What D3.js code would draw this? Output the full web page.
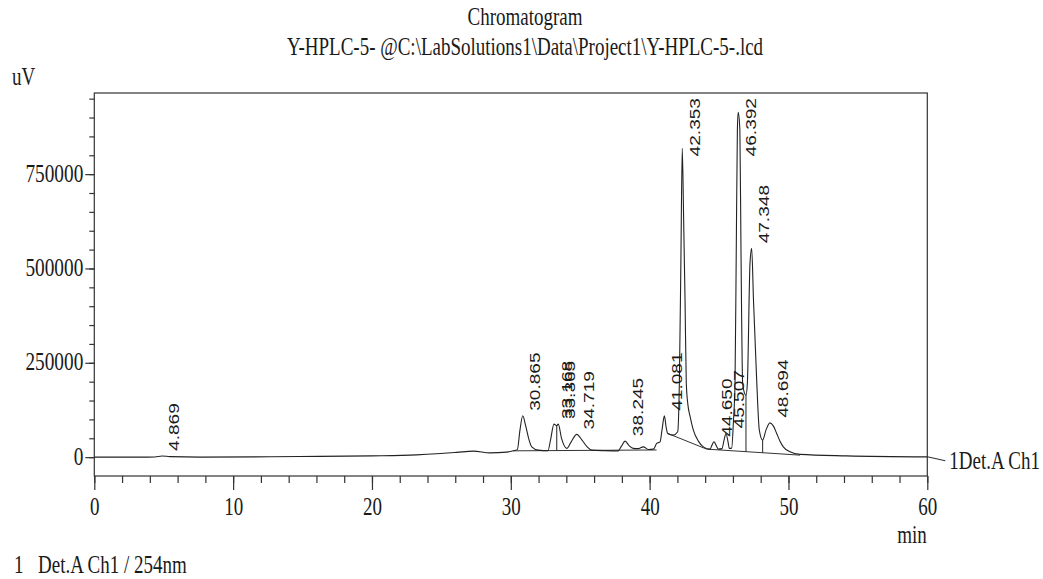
<!DOCTYPE html>
<html>
<head>
<meta charset="utf-8">
<script src="https://cdn.jsdelivr.net/npm/d3@7"></script>
<style>
  html, body { margin: 0; padding: 0; background: #fff; }
  svg { display: block; }
</style>
</head>
<body>
<svg id="chart" width="1043" height="579"></svg>
<script>
// ---------------- data ----------------
const titleText = "Chromatogram";
const subtitleText = "Y-HPLC-5- @C:\\LabSolutions1\\Data\\Project1\\Y-HPLC-5-.lcd";
const yUnit = "uV";
const xUnit = "min";
const channelLabel = "1Det.A Ch1";
const legendNumber = "1";
const legendText = "Det.A Ch1 / 254nm";

// retention time (min) and detector signal (uV)
const times = [0.00, 3.29, 4.37, 4.87, 5.45, 7.61, 14.82, 20.00, 23.22, 24.66, 26.10, 27.30, 28.50, 29.71,
  30.18, 30.47, 30.66, 30.86, 31.06, 31.28, 31.51, 31.98, 32.68, 32.86, 33.11, 33.31, 33.42, 33.65,
  34.03, 34.34, 34.75, 35.13, 35.49, 35.83, 36.79, 37.74, 37.97, 38.23, 38.52, 38.82, 39.16, 39.55,
  39.91, 40.27, 40.51, 40.75, 40.91, 41.06, 41.20, 41.30, 41.71, 42.02, 42.14, 42.25, 42.35, 42.45,
  42.55, 42.64, 42.76, 42.91, 43.15, 43.51, 43.87, 44.35, 44.49, 44.64, 44.78, 44.95, 45.21, 45.36,
  45.50, 45.65, 45.74, 45.91, 46.04, 46.15, 46.24, 46.32, 46.38, 46.50, 46.58, 46.70, 46.83, 46.94,
  47.04, 47.23, 47.35, 47.48, 47.71, 47.90, 48.14, 48.38, 48.67, 48.92, 49.15, 49.39, 49.63, 50.11,
  50.83, 54.20, 60.00];
const signal = [0, 0, 500, 3200, 1300, 0, 1600, 3400, 6100, 8800, 12500, 15900, 11400, 13300,
  16700, 19900, 71600, 109500, 84800, 50400, 27300, 18600, 17200, 45100, 87500, 83500, 87500, 50400,
  23100, 39800, 60200, 45100, 27800, 18600, 17200, 16700, 29200, 42400, 30500, 23100, 22500, 27300,
  20400, 21200, 36300, 40600, 76900, 109500, 76900, 62800, 58300, 67100, 195400, 514300, 818400, 628300,
  416200, 196200, 137900, 108700, 71600, 42400, 27300, 21200, 31800, 40600, 31800, 21200, 22500, 45100,
  62800, 39800, 23100, 23900, 98100, 196200, 548800, 866900, 913800, 866900, 548800, 195400, 169700, 164400,
  196200, 514300, 553300, 416200, 204100, 71600, 45100, 71600, 90900, 82200, 62800, 42400, 27300, 14100,
  7200, 3400, 800];

// integration baselines: start/end time and value
const baseStartT = [30.18, 41.30, 44.11];
const baseStartV = [16700, 62800, 21200];
const baseEndT   = [40.50, 44.11, 50.83];
const baseEndV   = [19000, 21200, 5300];

// peak separation (drop) lines
const dropTimes  = [33.31, 46.94, 48.14];
const dropTops   = [83500, 164400, 45100];
const dropBottoms = [16900, 14500, 11700];

// peak labels
const peakLabels  = ["4.869", "30.865", "33.168", "33.365", "34.719", "38.245", "41.081", "42.353",
                     "44.650", "45.507", "46.392", "47.348", "48.694"];
const peakTimes   = [4.869, 30.865, 33.168, 33.365, 34.719, 38.245, 41.081, 42.353,
                     44.650, 45.507, 46.392, 47.348, 48.694];
const peakHeights = [3200, 109500, 87500, 87500, 60200, 42400, 109500, 818400,
                     40600, 62800, 913800, 553300, 90900];

const xMajorTicks = [0, 10, 20, 30, 40, 50, 60];
const xMinorTicks = d3.range(0, 61, 2);
const yMajorTicks = [0, 250000, 500000, 750000];
const yMinorTicks = d3.range(0, 950001, 50000);

// ---------------- layout ----------------
const svg = d3.select("#chart");
const L = 94.3, R = 927.3, T = 93, B = 476;
const x = d3.scaleLinear().domain([0, 60]).range([L, R]);
const y = d3.scaleLinear().domain([-50000, 965000]).range([B, T]);

const SERIF = "'Liberation Serif', 'Times New Roman', serif";
const SANS = "'Liberation Sans', Arial, sans-serif";
const INK = "#1a1a1a";
const VSTRETCH = 1.3;

function stretchedText(x0, y0, txt, opts) {
  const o = Object.assign({size: 19, family: SERIF, anchor: "start", sy: VSTRETCH}, opts || {});
  return svg.append("text")
    .attr("transform", `translate(${x0},${y0}) scale(1,${o.sy})`)
    .attr("text-anchor", o.anchor)
    .attr("font-family", o.family)
    .attr("font-size", o.size)
    .attr("fill", INK)
    .text(txt);
}

// titles
stretchedText(525, 25, titleText, {anchor: "middle"});
stretchedText(525, 55, subtitleText, {anchor: "middle"});
stretchedText(12, 85, yUnit);
stretchedText(912, 543, xUnit, {anchor: "middle"});
stretchedText(14, 573, legendNumber);
stretchedText(38, 573, legendText);

// frame
svg.append("rect")
  .attr("x", L).attr("y", T).attr("width", R - L).attr("height", B - T)
  .attr("fill", "none").attr("stroke", "#333").attr("stroke-width", 1.2);

// x axis (minor + major)
const gxMinor = svg.append("g").attr("transform", `translate(0,${B})`)
  .call(d3.axisBottom(x).tickValues(xMinorTicks).tickSize(7).tickFormat(""));
const gxMajor = svg.append("g").attr("transform", `translate(0,${B})`)
  .call(d3.axisBottom(x).tickValues(xMajorTicks).tickSize(14).tickFormat(d3.format("d")));
[gxMinor, gxMajor].forEach(g => {
  g.select(".domain").remove();
  g.selectAll("line").attr("stroke", "#333").attr("stroke-width", 1.2);
});
gxMajor.selectAll("text")
  .attr("y", 0).attr("dy", 0)
  .attr("transform", `translate(0,39) scale(1,${VSTRETCH})`)
  .attr("font-family", SERIF).attr("font-size", 19).attr("fill", INK);

// y axis (minor + major)
const gyMinor = svg.append("g").attr("transform", `translate(${L},0)`)
  .call(d3.axisLeft(y).tickValues(yMinorTicks).tickSize(5).tickFormat(""));
const gyMajor = svg.append("g").attr("transform", `translate(${L},0)`)
  .call(d3.axisLeft(y).tickValues(yMajorTicks).tickSize(9).tickFormat(d3.format("d")));
[gyMinor, gyMajor].forEach(g => {
  g.select(".domain").remove();
  g.selectAll("line").attr("stroke", "#333").attr("stroke-width", 1.2);
});
gyMajor.selectAll("text")
  .attr("x", 0).attr("dy", 0)
  .attr("transform", `translate(-11,7) scale(1,${VSTRETCH})`)
  .attr("font-family", SERIF).attr("font-size", 19.3).attr("fill", INK);

// integration baselines
const plot = svg.append("g");
baseStartT.forEach((t0, i) => {
  plot.append("line")
    .attr("x1", x(t0)).attr("y1", y(baseStartV[i]))
    .attr("x2", x(baseEndT[i])).attr("y2", y(baseEndV[i]))
    .attr("stroke", "#333").attr("stroke-width", 1);
});

// drop lines
dropTimes.forEach((t, i) => {
  plot.append("line")
    .attr("x1", x(t)).attr("y1", y(dropTops[i]))
    .attr("x2", x(t)).attr("y2", y(dropBottoms[i]))
    .attr("stroke", "#222").attr("stroke-width", 1);
});

// signal
const pts = times.map((t, i) => [t, signal[i]]);
plot.append("path")
  .datum(pts)
  .attr("fill", "none")
  .attr("stroke", "#222")
  .attr("stroke-width", 1.1)
  .attr("stroke-linejoin", "round")
  .attr("d", d3.line().x(d => x(d[0])).y(d => y(d[1])).curve(d3.curveMonotoneX));

// channel leader + label
const lastT = times[times.length - 1], lastV = signal[signal.length - 1];
svg.append("line")
  .attr("x1", x(lastT)).attr("y1", y(lastV))
  .attr("x2", x(lastT) + 18).attr("y2", y(lastV) + 4)
  .attr("stroke", "#333").attr("stroke-width", 1.1);
stretchedText(x(lastT) + 22, y(lastV) + 12, channelLabel);

// peak labels (rotated, vertical)
const LABEL_STRETCH = 1.24;
peakLabels.forEach((lab, i) => {
  const px = x(peakTimes[i]) + 17.5;
  const t = svg.append("text")
    .attr("font-family", SANS).attr("font-size", 15.4).attr("fill", INK)
    .attr("text-anchor", "start")
    .text(lab);
  const len = t.node().getComputedTextLength() * LABEL_STRETCH;
  let bottom = y(peakHeights[i]) - 5;
  if (bottom - len < T + 5) bottom = T + 5 + len;
  t.attr("transform", `translate(${px},${bottom}) rotate(-90) scale(${LABEL_STRETCH},1)`);
});
</script>
</body>
</html>
